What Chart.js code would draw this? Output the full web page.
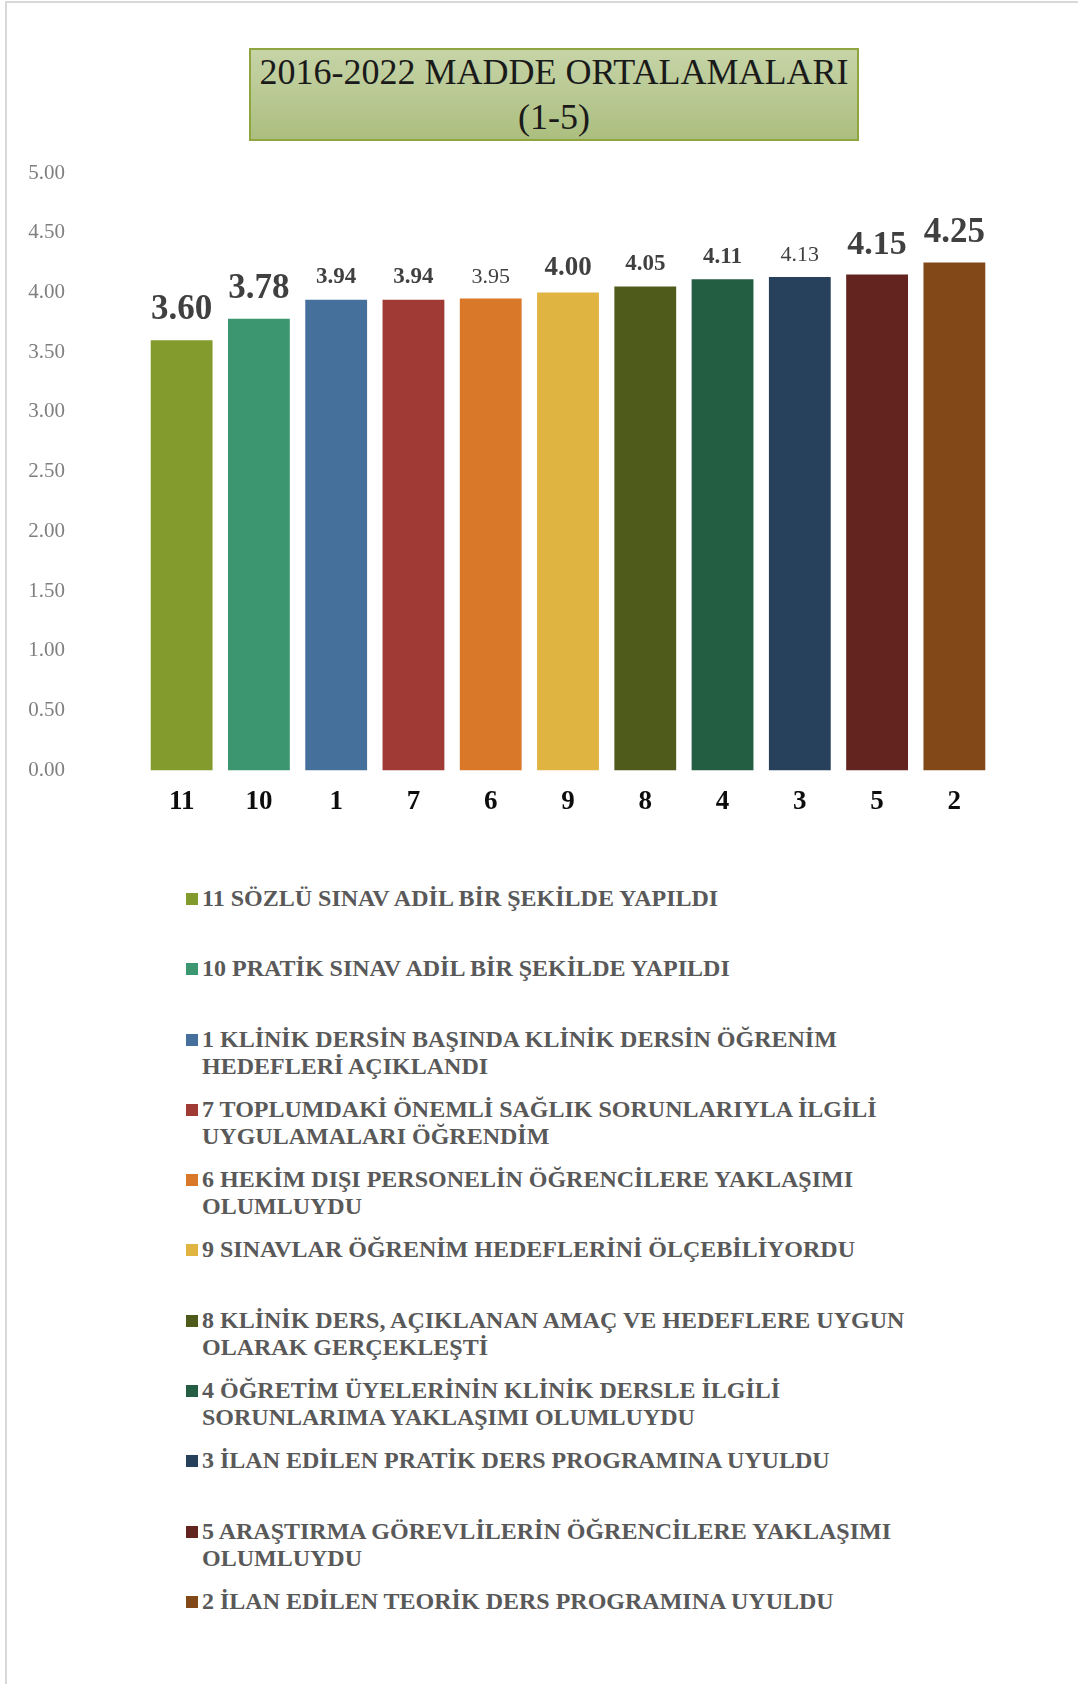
<!DOCTYPE html>
<html lang="tr">
<head>
<meta charset="utf-8">
<title>2016-2022 Madde Ortalamaları</title>
<script src="https://cdn.jsdelivr.net/npm/chart.js@4.4.1/dist/chart.umd.min.js"></script>
<style>
  html, body { margin: 0; padding: 0; background: #fff; }
  body { width: 1078px; height: 1684px; position: relative; overflow: hidden; }
  .frame { position: absolute; left: 5px; top: 1px; right: 0; bottom: 0;
           border-left: 2px solid #d9d9d9; border-top: 2px solid #d9d9d9; }
  #chartWrap { position: absolute; left: 0; top: 0; width: 1078px; height: 861px; }
  .title-box { position: absolute; left: 249px; top: 48px; width: 610px; height: 93px;
               box-sizing: border-box; border: 2px solid #8fa640;
               background: linear-gradient(#c6d4a7, #acbe7f);
               font-family: "Liberation Serif", serif; font-size: 36px; line-height: 45px;
               color: #1a1a1a; text-align: center; padding-top: 0; }
  #legend { position: absolute; left: 0; top: 885px; width: 1078px; }
  .lg-item { position: relative; height: 70.3px; }
  .lg-box { position: absolute; left: 186px; top: 8px; width: 12px; height: 12px; }
  .lg-text { position: absolute; left: 202px; top: 0; white-space: pre-line;
             font-family: "Liberation Serif", serif; font-weight: bold; font-size: 24px;
             line-height: 27px; color: #595959; }
</style>
</head>
<body>
<div class="frame"></div>
<div id="chartWrap"><canvas id="myChart" width="1078" height="861"></canvas></div>
<div class="title-box">2016-2022 MADDE ORTALAMALARI<br>(1-5)</div>
<div id="legend"></div>
<script>
const categories = ['11', '10', '1', '7', '6', '9', '8', '4', '3', '5', '2'];
const means = [3.60, 3.78, 3.94, 3.94, 3.95, 4.00, 4.05, 4.11, 4.13, 4.15, 4.25];
const itemTexts = [
  '11 SÖZLÜ SINAV ADİL BİR ŞEKİLDE YAPILDI',
  '10 PRATİK SINAV ADİL BİR ŞEKİLDE YAPILDI',
  '1 KLİNİK DERSİN BAŞINDA KLİNİK DERSİN ÖĞRENİM\nHEDEFLERİ AÇIKLANDI',
  '7 TOPLUMDAKİ ÖNEMLİ SAĞLIK SORUNLARIYLA İLGİLİ\nUYGULAMALARI ÖĞRENDİM',
  '6 HEKİM DIŞI PERSONELİN ÖĞRENCİLERE YAKLAŞIMI\nOLUMLUYDU',
  '9 SINAVLAR ÖĞRENİM HEDEFLERİNİ ÖLÇEBİLİYORDU',
  '8 KLİNİK DERS, AÇIKLANAN AMAÇ VE HEDEFLERE UYGUN\nOLARAK GERÇEKLEŞTİ',
  '4 ÖĞRETİM ÜYELERİNİN KLİNİK DERSLE İLGİLİ\nSORUNLARIMA YAKLAŞIMI OLUMLUYDU',
  '3 İLAN EDİLEN PRATİK DERS PROGRAMINA UYULDU',
  '5 ARAŞTIRMA GÖREVLİLERİN ÖĞRENCİLERE YAKLAŞIMI\nOLUMLUYDU',
  '2 İLAN EDİLEN TEORİK DERS PROGRAMINA UYULDU'
];
const yTicks = [0, 0.5, 1, 1.5, 2, 2.5, 3, 3.5, 4, 4.5, 5];

const barColors = [
  '#839a2c', '#3c9670', '#44709b', '#a03a34', '#d97828', '#e0b440',
  '#4f5b1a', '#235d42', '#27415d', '#632420', '#824818'
];
// value labels in the original use mixed sizes / weights
const labelSizes = [35, 35, 23, 23, 22, 27, 23, 23, 22, 34, 35];
const labelBold = [true, true, true, true, false, true, true, true, false, true, true];

const valueLabels = {
  id: 'valueLabels',
  afterDatasetsDraw(chart) {
    const ctx = chart.ctx;
    const meta = chart.getDatasetMeta(0);
    ctx.save();
    ctx.fillStyle = '#404040';
    ctx.textAlign = 'center';
    ctx.textBaseline = 'alphabetic';
    meta.data.forEach((bar, i) => {
      const size = labelSizes[i];
      ctx.font = (labelBold[i] ? 'bold ' : '') + size + 'px "Liberation Serif", serif';
      ctx.fillText(means[i].toFixed(2), bar.x, bar.y - (7 + size * 0.4));
    });
    ctx.restore();
  }
};

const htmlLegend = {
  id: 'htmlLegend',
  afterUpdate(chart) {
    const box = document.getElementById('legend');
    box.innerHTML = '';
    const ds = chart.data.datasets[0];
    itemTexts.forEach((txt, i) => {
      const item = document.createElement('div');
      item.className = 'lg-item';
      const sw = document.createElement('span');
      sw.className = 'lg-box';
      sw.style.background = ds.backgroundColor[i];
      const t = document.createElement('span');
      t.className = 'lg-text';
      t.textContent = txt;
      item.appendChild(sw);
      item.appendChild(t);
      box.appendChild(item);
    });
  }
};

document.addEventListener('DOMContentLoaded', function() {
  const ctx = document.getElementById('myChart');

  new Chart(ctx, {
    type: 'bar',
    data: {
      labels: categories,
      datasets: [{
        label: '2016-2022 MADDE ORTALAMALARI (1-5)',
        data: means,
        backgroundColor: barColors,
        borderWidth: 0,
        barPercentage: 0.8,
        categoryPercentage: 1
      }]
    },
    options: {
      responsive: false,
      animation: false,
      layout: { padding: { top: 173, left: 26, right: 85, bottom: 11 } },
      plugins: {
        legend: { display: false },
        title: { display: false },
        tooltip: { enabled: false }
      },
      scales: {
        y: {
          min: 0,
          max: 5,
          afterFit: s => { s.width = 117; },
          afterBuildTicks: s => { s.ticks = yTicks.map(v => ({ value: v })); },
          grid: { display: false, drawTicks: false },
          border: { display: false },
          ticks: {
            padding: 78,
            color: '#7f7f7f',
            font: { family: '"Liberation Serif", serif', size: 21 },
            callback: v => Number(v).toFixed(2)
          }
        },
        x: {
          afterFit: s => { s.height = 60; },
          grid: { display: false, drawTicks: false },
          border: { display: false },
          ticks: {
            padding: 15,
            color: '#0d0d0d',
            font: { family: '"Liberation Serif", serif', size: 27, weight: 'bold' }
          }
        }
      }
    },
    plugins: [valueLabels, htmlLegend]
  });
});
</script>
</body>
</html>
